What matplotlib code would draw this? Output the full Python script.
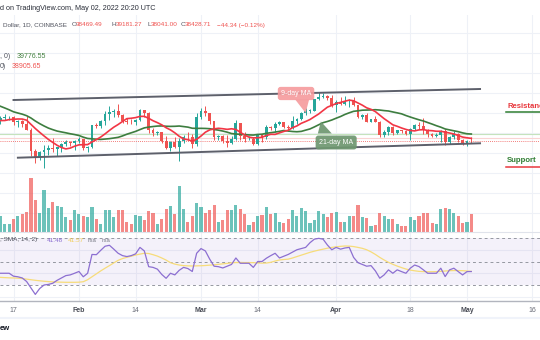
import numpy as np
import pandas as pd
import matplotlib
matplotlib.use("Agg")
import matplotlib.pyplot as plt
from matplotlib.patches import Polygon

plt.rcParams["font.family"] = ["Liberation Sans", "DejaVu Sans"]

# BTC/USD daily, Coinbase, 2022-01-14 .. 2022-05-02
dates = pd.date_range("2022-01-14", "2022-05-02", freq="D")

opens = [42592, 43099, 43177, 43200, 42250, 42375, 41744, 40680, 36458, 35075, 36276, 36654, 36954, 36852, 37138, 37784, 38138, 37917,
         38483, 38743, 36952, 37154, 41500, 41441, 42412, 43841, 44118, 44338, 43565, 42407, 42244, 42197, 42586, 44575, 43961, 40538,
         40030, 40122, 38431, 37075, 38286, 37296, 38332, 39214, 39105, 37709,
         43193, 44354, 43925, 42451, 39148, 39397, 38420, 37989, 38730, 41941, 39437, 38730, 38807, 37777, 39671, 39281, 41114, 40917,
         41757, 42201, 41262, 41002, 42364, 42882, 43960, 44348, 44500, 46820, 47128, 47465, 47062,
         45538, 46281, 45868, 46453, 46622, 45555, 43206, 43503, 42287, 42782, 42207, 39521, 40127, 41166, 39936, 40553, 40424, 39716,
         40827, 41503, 41374, 40527, 39740, 39478, 39520, 40458, 38120, 39241, 39773, 38609,
         37714, 38469]
highs = [43450, 43800, 43480, 43400, 42680, 42540, 43500, 41100, 36850, 36500, 37550, 37550, 38919, 37250, 38000, 38700, 38350, 38700,
         39250, 38850, 37400, 41700, 41950, 42650, 44500, 45500, 44800, 45821, 43900, 43000, 42750, 42850, 44750, 44600, 44200, 40950,
         40450, 40150, 39500, 38450, 39250, 38950, 39700, 40300, 39850, 44000,
         44949, 45400, 44100, 42500, 39650, 39700, 39550, 39400, 42600, 42000, 40250, 39350, 39300, 39900, 39900, 41700, 41400, 42300,
         42400, 42300, 41600, 43350, 43000, 44200, 45100, 44800, 46900, 48189, 48100, 47700, 47600,
         46700, 47200, 47450, 46900, 47200, 45600, 43900, 43950, 42800, 43400, 42400, 40700, 41500, 41450, 40700, 40700, 40600, 41100,
         41750, 42200, 42976, 40800, 39950, 40000, 40600, 40800, 39450, 40350, 39950, 38800,
         38650, 39181]
lows = [41730, 42600, 42700, 41550, 41250, 41250, 40600, 35500, 34010, 34600, 32933, 35700, 36250, 35500, 36200, 37500, 37400, 36650,
        38050, 36650, 36250, 36950, 40950, 41100, 41650, 42700, 43200, 43200, 42000, 41750, 41850, 41600, 42430, 43300, 40100, 39450,
        39650, 38000, 36800, 36350, 37050, 34324, 38050, 38600, 37000, 37450,
        42800, 43350, 41850, 38600, 38600, 38100, 37150, 37900, 38650, 38550, 38250, 38700, 37600, 37600, 38150, 38900, 40550, 40150,
        41550, 40950, 40500, 40900, 41750, 42550, 43650, 44100, 44400, 46650, 46950, 46550, 45200,
        44200, 45650, 45550, 45150, 45400, 43100, 42750, 42150, 42150, 42150, 39200, 39250, 39550, 39600, 39800, 40050, 39550, 38550,
        40550, 40850, 39800, 39200, 39300, 39200, 38200, 37700, 37900, 38900, 38200, 37600,
        37400, 38041]
closes = [43099, 43177, 43200, 42250, 42375, 41744, 40680, 36458, 35075, 36276, 36654, 36954, 36852, 37138, 37784, 38138, 37917, 38483,
          38743, 36952, 37154, 41500, 41441, 42412, 43841, 44118, 44338, 43565, 42407, 42244, 42197, 42586, 44575, 43961, 40538, 40030,
          40122, 38431, 37075, 38286, 37296, 38332, 39214, 39105, 37709, 43193,
          44354, 43925, 42451, 39148, 39397, 38420, 37989, 38730, 41941, 39437, 38730, 38807, 37777, 39671, 39281, 41114, 40917, 41757,
          42201, 41262, 41002, 42364, 42882, 43960, 44348, 44500, 46820, 47128, 47465, 47062, 45538,
          46281, 45868, 46453, 46622, 45555, 43206, 43503, 42287, 42782, 42207, 39521, 40127, 41166, 39936, 40553, 40424, 39716, 40827,
          41503, 41374, 40527, 39740, 39478, 39520, 40458, 38120, 39241, 39773, 38609, 37714,
          38469, 38429]
# closes 2021-12-25 .. 2022-01-13, only needed to seed the moving averages
prev_closes = [50400, 50800, 50640, 47540, 46470, 47120, 46200, 47740, 47300, 46430, 45830, 43420, 43080, 41550, 41680, 41860,
               41820, 42740, 43950, 42590]

# volume (relative units)
volume = [47, 24, 24, 38, 47, 53, 60, 163, 97, 58, 125, 72, 90, 78, 76, 45, 36, 65, 55, 47,
          45, 74, 38, 24, 67, 67, 44, 67, 65, 31, 24, 51, 49, 35, 62, 57, 24, 38, 69, 77,
          53, 137, 69, 31, 49, 86, 74, 58, 65, 80, 31, 37, 65, 65, 82, 68, 54, 22, 29, 47,
          51, 76, 53, 58, 31, 27, 38, 67, 47, 72, 63, 27, 36, 63, 53, 44, 58, 60, 31, 31,
          47, 49, 80, 45, 42, 18, 22, 58, 47, 40, 38, 24, 17, 18, 45, 36, 49, 58, 56, 26,
          24, 69, 72, 69, 58, 49, 26, 29, 53]

rsi = [40, 40, 40, 37.5, 37, 36, 33, 27.5, 22, 27, 30, 30.5, 31.5, 34, 36, 38, 38.6, 40, 41.5, 37,
       40, 56, 55.8, 59.5, 63, 63.8, 60.5, 57, 55, 54.2, 55, 56.5, 62, 59, 45.6, 45, 43.5, 39, 35.7, 40,
       38.6, 42.5, 45, 44, 41.5, 57, 61, 59, 52, 46, 45.6, 44.5, 46, 47.5, 53, 48.5, 48.5, 48.5, 45, 50,
       50, 52.8, 55, 57, 53, 54.5, 56, 58, 60, 61, 62, 66, 69, 69.7, 69, 64, 60, 62, 60.5, 61.5,
       62, 53.5, 49, 47.5, 46, 46.5, 42, 35.8, 38.6, 42.9, 40, 42.9, 41.4, 40, 44.3, 47, 45.7, 42.9, 40, 40,
       40, 44.3, 37.2, 42.9, 44.3, 41.4, 38.6, 41.4, 41.48]
rsi_ma = [36.5, 36.3, 36.1, 36, 35.8, 35.5, 35, 34.5, 34, 33.6, 33.2, 32.9, 32.7, 32.5, 32.4, 32.3, 32.3, 32.3, 32.4, 32.8,
          34.5, 37, 39.5, 42, 44.3, 46.5, 48.8, 51, 52.5, 53.6, 54.5, 55.5, 56.3, 57, 56.8, 55.8, 54.6, 53, 51.2, 49,
          47.8, 47, 46.5, 46.3, 46.2, 46.3, 46.4, 46.6, 46.9, 47.2, 47.6, 48, 48.4, 48.9, 49.1, 49.2, 49.1, 49.1, 49, 48.8,
          48.6, 48.7, 49.3, 50.4, 51.3, 51.7, 52, 53, 54.2, 55.4, 56.6, 57.8, 58.8, 59.7, 60.5, 61.3, 62, 62.5, 62.9, 63.2,
          63.1, 62.7, 62, 61.2, 60, 58.2, 56, 53.5, 51.3, 49.3, 47.6, 46.1, 44.8, 43.6, 42.7, 42.1, 41.6, 41.4, 41.3, 41.3,
          41.4, 41.6, 41.9, 42.2, 42.3, 42.3, 42.2, 41.9, 41.57]

tick_dates = ["2022-01-17", "2022-02-01", "2022-02-14", "2022-03-01", "2022-03-14",
              "2022-04-01", "2022-04-18", "2022-05-01", "2022-05-16"]
tick_labels = ["17", "Feb", "14", "Mar", "14", "Apr", "18", "May", "16"]

# trend channel drawn on the chart (date, price)
channel_upper = [("2022-01-17", 46600), ("2022-05-04", 48800)]
channel_lower = [("2022-01-18", 35060), ("2022-05-04", 37940)]

UP = "#26a69a"
DOWN = "#ef5350"

def di(d):
    return (pd.Timestamp(d) - dates[0]).days

x = np.arange(len(dates))
all_close = pd.Series(prev_closes + closes)
sma9 = all_close.rolling(9).mean().values[len(prev_closes):]
sma21 = all_close.rolling(21).mean().values[len(prev_closes):]

W, H = 540, 340
fig = plt.figure(figsize=(5.4, 3.4), dpi=100)
fig.patch.set_facecolor("white")

def fy(y):
    return 1 - y / H

xmin = -0.1
xmax = xmin + W / 4.36

# ---- price pane
ax = fig.add_axes([0, fy(232), 1, (232 - 15) / H])
ax.set_xlim(xmin, xmax)
ax.set_ylim(20200, 63600)
for s in ax.spines.values():
    s.set_visible(False)
ax.set_yticks(np.arange(24000, 64000, 4000))
ax.set_xticks([di(d) for d in tick_dates])
ax.tick_params(length=0, labelleft=False, labelbottom=False)
ax.grid(True, color="#eef1f7", lw=0.8)
ax.set_axisbelow(True)

for i in x:
    c = UP if closes[i] >= opens[i] else DOWN
    ax.vlines(i, lows[i], highs[i], color=c, lw=0.7, zorder=3)
    ax.bar(i, max(abs(closes[i] - opens[i]), 60), bottom=min(opens[i], closes[i]),
           width=0.64, color=c, lw=0, zorder=4)

ax.plot(x, sma21, color="#3d7d3f", lw=1.2, zorder=5)
ax.plot(x, sma9, color="#f23645", lw=1.2, zorder=5)

ax.axhline(sma21[-1], color="#c5e3bd", lw=0.8, zorder=2)
ax.axhline(sma9[-1], color="#f9d3d3", lw=0.8, zorder=2)
ax.axhline(closes[-1], color=DOWN, lw=0.6, ls=(0, (1, 1.5)), zorder=2)

for ch in (channel_upper, channel_lower):
    ax.plot([di(d) for d, p in ch], [p for d, p in ch], color="#5d606b", lw=1.4, zorder=6)

# MA callouts
ax.add_patch(Polygon([(67.6, 46700), (70.8, 46700), (70.0, 44000)], closed=True,
                     fc="#f59a9d", ec="none", alpha=0.9, zorder=7))
ax.text(67.8, 47900, "9-day MA", color="white", fontsize=5, ha="center", va="center", zorder=8,
        bbox=dict(boxstyle="round,pad=0.45,rounding_size=0.4", fc="#f59a9d", ec="none", alpha=0.9))
ax.add_patch(Polygon([(72.8, 39900), (76.0, 39900), (73.5, 42300)], closed=True,
                     fc="#6e9770", ec="none", alpha=0.92, zorder=7))
ax.text(77.0, 38100, "21-day MA", color="white", fontsize=5, ha="center", va="center", zorder=8,
        bbox=dict(boxstyle="round,pad=0.5,rounding_size=0.4", fc="#6e9770", ec="none", alpha=0.92))

# right-hand labels run off the edge in the original screenshot too
ax.text(116.2, 45200, "Resistance", color="#e8383d", fontsize=5.6, fontweight="bold", va="center", zorder=8)
ax.plot([116, 124], [44200, 44200], color="#2f7d32", lw=1.1, zorder=8)
ax.text(116.2, 34400, "Support", color="#2f7d32", fontsize=5.6, fontweight="bold", va="center", zorder=8)
ax.plot([116, 124], [33200, 33200], color="#e8383d", lw=1.1, zorder=8)

# volume overlay
axv = ax.twinx()
axv.set_ylim(0, 651)
axv.set_xlim(xmin, xmax)
vcol = [UP if closes[i] >= opens[i] else DOWN for i in x]
axv.bar(x, volume, width=0.72, color=vcol, alpha=0.68, lw=0)
axv.axis("off")

# ---- RSI pane
axr = fig.add_axes([0, fy(301), 1, 69 / H])
axr.set_xlim(xmin, xmax)
axr.set_ylim(16.4, 75.1)
axr.axhspan(30, 70, color="#7e57c2", alpha=0.08, lw=0)
for lvl in (70, 50, 30):
    axr.axhline(lvl, color="#9598a1", lw=0.7, ls=(0, (3, 3)))
axr.set_yticks([20, 40, 60])
axr.grid(True, color="#eef1f7", lw=0.8)
axr.set_axisbelow(True)
axr.plot(x, rsi_ma, color="#f7dc7a", lw=0.9)
axr.plot(x, rsi, color="#8c6fd1", lw=0.9)
for k, s in axr.spines.items():
    s.set_visible(k in ("top", "bottom"))
axr.spines["top"].set_color("#e0e3eb")
axr.spines["top"].set_linewidth(0.8)
axr.spines["bottom"].set_color("#b2b5be")
axr.spines["bottom"].set_linewidth(1.0)
axr.set_xticks([di(d) for d in tick_dates])
axr.set_xticklabels(tick_labels)
axr.tick_params(axis="x", length=0, pad=4.5, labelsize=5, colors="#6a6d78")
axr.tick_params(axis="y", length=0, labelleft=False)
for lab in axr.get_xticklabels():
    if not lab.get_text().isdigit():
        lab.set_fontweight("bold")
        lab.set_color("#4a4d57")

# ---- header texts (pixel positions)
def ftext(px, py, s, color="#131722", size=5, **kw):
    fig.text(px / W, fy(py), s, color=color, fontsize=size, va="center", ha="left", **kw)

ftext(0, 8, "d on TradingView.com, May 02, 2022 20:20 UTC", "#2a2e39", 5.2)
ftext(3, 25, "Dollar, 1D, COINBASE", "#50535e", 4.6)
ftext(72, 25, "O", "#50535e", 4.6); ftext(75.5, 25, "38469.49", DOWN, 4.6)
ftext(112, 25, "H", "#50535e", 4.6); ftext(116, 25, "39181.27", DOWN, 4.6)
ftext(147, 25, "L", "#50535e", 4.6); ftext(150.5, 25, "38041.00", DOWN, 4.6)
ftext(181, 25, "C", "#50535e", 4.6); ftext(185, 25, "38428.71", DOWN, 4.6)
ftext(217, 25, "\u221244.34 (\u22120.12%)", DOWN, 4.6)
ftext(0, 56, ", 0)", "#50535e"); ftext(17, 56, "39776.55", "#43803f")
ftext(0, 66, "0)", "#50535e"); ftext(12, 66, "38905.65", DOWN)

ftext(0, 240, ", SMA, 14, 2)", "#50535e", 4.6)
ftext(47, 240, "41.48", "#8c6fd1", 4.6)
ftext(68, 240, "41.57", "#f2cf5b", 4.6)
ftext(88, 240, "n/a", "#787b86", 4.6)
ftext(102, 240, "n/a", "#787b86", 4.6)

fig.add_artist(plt.Line2D([0, 1], [fy(318), fy(318)], color="#f0f3fa", lw=1.5))
ftext(0, 329, "ew", "#131722", 5.5, fontweight="bold")

fig.savefig("out.png", dpi=100, facecolor="white")
